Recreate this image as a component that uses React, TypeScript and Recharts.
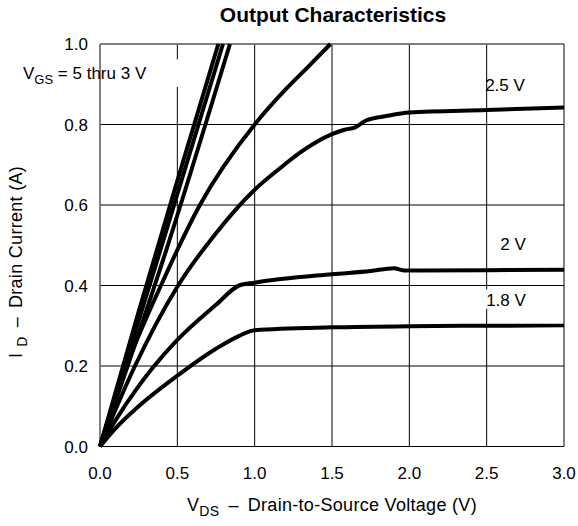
import React from 'react';
import {
  LineChart,
  Line,
  XAxis,
  YAxis,
  CartesianGrid,
  ReferenceLine,
  ReferenceArea,
} from 'recharts';

// V_DS (V) / I_D (A) pairs
const vgs5V = [[0, 0], [0.25, 0.335], [0.5, 0.66], [0.765, 1.0]];
const vgs4V = [[0, 0], [0.4, 0.5], [0.795, 1.0]];
const vgs3V = [[0, 0], [0.43, 0.49], [0.84, 1.0]];
const vgs28V = [
  [0, 0], [0.172, 0.2], [0.394, 0.4], [0.646, 0.6],
  [1.0, 0.8], [1.2, 0.887], [1.35, 0.945], [1.49, 1.0],
];
const vgs25V = [
  [0, 0], [0.226, 0.2], [0.5, 0.397], [0.75, 0.53], [1.0, 0.638],
  [1.15, 0.687], [1.3, 0.732], [1.5, 0.776], [1.58, 0.787], [1.65, 0.793],
  [1.72, 0.81], [1.85, 0.821], [2.0, 0.83], [2.5, 0.836], [3.0, 0.842],
];
const vgs2V = [
  [0, 0], [0.1, 0.065], [0.25, 0.15], [0.35, 0.2], [0.5, 0.265], [0.75, 0.352],
  [0.9, 0.4], [1.0, 0.407], [1.5, 0.428], [1.75, 0.436], [1.9, 0.443],
  [1.97, 0.437], [2.5, 0.438], [3.0, 0.439],
];
const vgs18V = [
  [0, 0], [0.1, 0.045], [0.25, 0.1], [0.5, 0.176], [0.75, 0.243], [0.9, 0.275],
  [1.0, 0.289], [1.5, 0.296], [2.0, 0.299], [2.5, 0.3], [3.0, 0.301],
];

const xTicks = [0, 0.5, 1.0, 1.5, 2.0, 2.5, 3.0];
const yTicks = [0, 0.2, 0.4, 0.6, 0.8, 1.0];

const curves = [vgs5V, vgs4V, vgs3V, vgs28V, vgs25V, vgs2V, vgs18V];

const toPoints = (pairs: number[][]) => pairs.map(([v, i]) => ({ v, i }));

const FONT = '"Liberation Sans", Arial, Helvetica, sans-serif';

const App: React.FC = () => {
  return (
    <div style={{ position: 'absolute', left: 0, top: 0, width: 578, height: 526, background: '#fff' }}>
      <LineChart
        width={578}
        height={526}
        margin={{ top: 44, right: 14, left: 0, bottom: 0 }}
        style={{ fontFamily: FONT }}
      >
        <CartesianGrid stroke="#000" strokeWidth={1} fill="#fff" />
        <XAxis
          type="number"
          dataKey="v"
          domain={[0, 3]}
          ticks={xTicks}
          tickFormatter={(t: number) => t.toFixed(1)}
          height={79.5}
          axisLine={false}
          tickLine={false}
          tickSize={0}
          tickMargin={20}
          tick={{ fill: '#000', fontSize: 17 }}
        />
        <YAxis
          type="number"
          dataKey="i"
          domain={[0, 1]}
          ticks={yTicks}
          tickFormatter={(t: number) => t.toFixed(1)}
          width={100}
          axisLine={false}
          tickLine={false}
          tickSize={0}
          tickMargin={12}
          tick={{ fill: '#000', fontSize: 17 }}
        />
        {/* white boxes where the labels break the grid */}
        <ReferenceArea x1={0.33} x2={0.56} y1={0.893} y2={0.962} fill="#fff" fillOpacity={1} stroke="none" />
        <ReferenceArea x1={2.46} x2={2.56} y1={0.342} y2={0.39} fill="#fff" fillOpacity={1} stroke="none" />
        <ReferenceLine y={1} stroke="#808080" strokeWidth={1.5} />
        <ReferenceLine x={0} stroke="#808080" strokeWidth={1.5} />
        {curves.map((c, k) => (
          <Line
            key={k}
            data={toPoints(c)}
            dataKey="i"
            type="monotone"
            stroke="#000"
            strokeWidth={4}
            strokeLinejoin="round"
            dot={false}
            activeDot={false}
            isAnimationActive={false}
          />
        ))}
      </LineChart>
      <svg
        width={578}
        height={526}
        style={{ position: 'absolute', left: 0, top: 0, pointerEvents: 'none', fontFamily: FONT }}
      >
        <text x={333} y={22} textAnchor="middle" fontSize={21} fontWeight="bold" fill="#000">
          Output Characteristics
        </text>
        <text x={23} y={79} fontSize={17} fill="#000">
          V<tspan dy={5} fontSize={13}>GS</tspan>
          <tspan dy={-5}> = 5 thru 3 V</tspan>
        </text>
        <text x={505} y={91} textAnchor="middle" fontSize={17} fill="#000">2.5 V</text>
        <text x={513} y={250} textAnchor="middle" fontSize={17} fill="#000">2 V</text>
        <text x={506} y={306} textAnchor="middle" fontSize={17} fill="#000">1.8 V</text>
        <text x={332} y={511} textAnchor="middle" fontSize={18} letterSpacing={0.3} fill="#000">
          V<tspan dy={5} fontSize={14}>DS</tspan>
          <tspan dy={-5} dx={9}>{'\u2013'}</tspan>
          <tspan dx={9}>Drain-to-Source Voltage (V)</tspan>
        </text>
        <text transform="translate(22, 262) rotate(-90)" textAnchor="middle" fontSize={18} letterSpacing={0.3} fill="#000">
          I<tspan dy={5} dx={6} fontSize={14}>D</tspan>
          <tspan dy={-5} dx={9}>{'\u2013'}</tspan>
          <tspan dx={9}>Drain Current (A)</tspan>
        </text>
      </svg>
    </div>
  );
};

export default App;
